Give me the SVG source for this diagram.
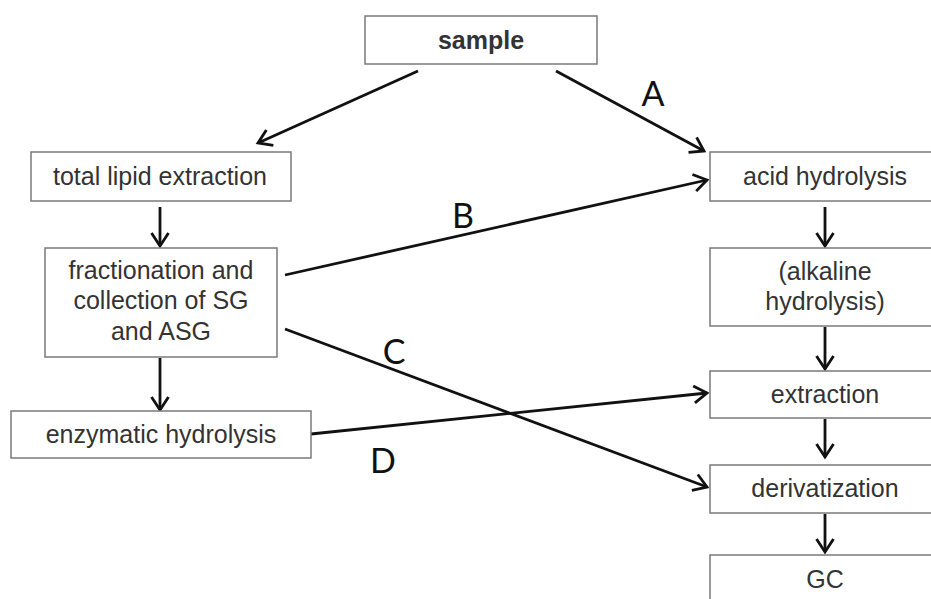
<svg xmlns="http://www.w3.org/2000/svg" width="931" height="599" viewBox="0 0 931 599">
<defs>
<style>
.box{fill:#fff;stroke:#7a7a7a;stroke-width:1.5}
.t{font-family:"Liberation Sans",Arial,sans-serif;font-size:25px;fill:#333;text-anchor:middle}
.b{font-weight:bold}
.lbl{font-family:Lato,"Open Sans",sans-serif;font-size:34px;fill:#111;text-anchor:middle}
.c{stroke:#111;stroke-width:2.8;fill:none;marker-end:url(#ah)}
</style>
<marker id="ah" viewBox="0 0 18 20" refX="15" refY="10" markerWidth="18" markerHeight="20" markerUnits="userSpaceOnUse" orient="auto">
<path d="M2,1.5 L15,10 L2,18.5" fill="none" stroke="#111" stroke-width="2.8"/>
</marker>
</defs>
<rect width="931" height="599" fill="#fff"/>
<g id="connectors">
<line class="c" x1="418" y1="71" x2="258" y2="143"/>
<line class="c" x1="556" y1="71" x2="704" y2="151"/>
<line class="c" x1="160" y1="207" x2="160" y2="246"/>
<line class="c" x1="160" y1="358" x2="160" y2="410"/>
<line class="c" x1="285" y1="275" x2="707" y2="180"/>
<line class="c" x1="285" y1="329" x2="707" y2="487"/>
<line class="c" x1="311" y1="434" x2="707" y2="393"/>
<line class="c" x1="825" y1="207" x2="825" y2="246"/>
<line class="c" x1="825" y1="327" x2="825" y2="369"/>
<line class="c" x1="825" y1="419" x2="825" y2="457"/>
<line class="c" x1="825" y1="514" x2="825" y2="552"/>
<text class="lbl" x="653" y="106">A</text>
<text class="lbl" x="463" y="228">B</text>
<text class="lbl" x="394" y="364">C</text>
<text class="lbl" x="383" y="473">D</text>
</g>
<g id="sample"><rect class="box" x="365" y="16" width="232" height="48"/><text class="t b" x="481" y="49">sample</text></g>
<g id="total-lipid-extraction"><rect class="box" x="31" y="152" width="260" height="49"/><text class="t" x="160" y="185">total lipid extraction</text></g>
<g id="fractionation"><rect class="box" x="45" y="248" width="232" height="109"/><text class="t" x="161" y="279">fractionation and</text><text class="t" x="161" y="309">collection of SG</text><text class="t" x="161" y="340">and ASG</text></g>
<g id="enzymatic-hydrolysis"><rect class="box" x="11" y="411" width="300" height="47"/><text class="t" x="161" y="443">enzymatic hydrolysis</text></g>
<g id="acid-hydrolysis"><rect class="box" x="710" y="152" width="230" height="49"/><text class="t" x="825" y="185">acid hydrolysis</text></g>
<g id="alkaline-hydrolysis"><rect class="box" x="710" y="248" width="230" height="78"/><text class="t" x="825" y="280">(alkaline</text><text class="t" x="825" y="310">hydrolysis)</text></g>
<g id="extraction"><rect class="box" x="710" y="371" width="230" height="47"/><text class="t" x="825" y="403">extraction</text></g>
<g id="derivatization"><rect class="box" x="710" y="465" width="230" height="48"/><text class="t" x="825" y="497">derivatization</text></g>
<g id="gc"><rect class="box" x="710" y="555" width="230" height="60"/><text class="t" x="825" y="588">GC</text></g>
</svg>
